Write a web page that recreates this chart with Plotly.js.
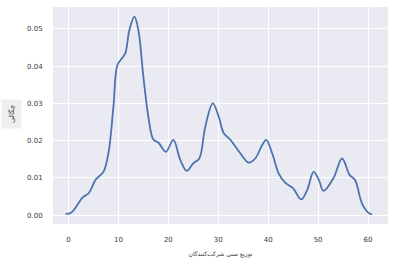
<!DOCTYPE html>
<html><head><meta charset="utf-8">
<script src="https://cdn.plot.ly/plotly-3.0.1.min.js"></script>
<style>html,body{margin:0;padding:0;background:#fff;}#chart{width:394px;height:265px;}</style>
</head><body><div id="chart"></div>
<script>
const xValues = [-0.6,0.6,2.9,4.0,5.5,7.0,8.0,9.0,9.8,10.7,11.4,12.2,13.2,14.0,15.0,16.0,17.0,18.0,19.5,21.0,22.4,23.7,25.0,26.2,27.4,28.9,30.1,31.1,32.4,34.4,36.1,37.4,38.8,39.6,40.8,42.1,43.4,45.0,46.6,47.8,49.1,50.1,51.1,53.1,54.8,56.3,57.4,58.8,60.1,60.8];
const densityValues = [0.0003,0.0007,0.0048,0.0058,0.0096,0.0116,0.0166,0.0291,0.0403,0.0421,0.0435,0.0497,0.0533,0.0497,0.0372,0.0264,0.0203,0.0195,0.0170,0.0202,0.0148,0.0119,0.0139,0.0152,0.0237,0.0300,0.0264,0.0220,0.0203,0.0166,0.0141,0.0152,0.0188,0.0202,0.0166,0.0112,0.0087,0.0072,0.0042,0.0067,0.0116,0.0096,0.0065,0.0100,0.0152,0.0108,0.0094,0.0031,0.0006,0.0002];
const xTicks = [0,10,20,30,40,50,60];
const yTicks = [0,0.01,0.02,0.03,0.04,0.05];
const xTitle = 'توزیع سنی شرکت‌کنندگان';
const yTitle = 'چگالی';

const font = {family:'DejaVu Sans, sans-serif', size:7, color:'#3a3a3a'};
Plotly.newPlot('chart', [{
  x: xValues, y: densityValues, type:'scatter', mode:'lines',
  line:{color:'#4c72b0', width:1.8, shape:'spline', smoothing:1}
}], {
  width:394, height:265,
  margin:{l:53, r:6, t:7, b:41},
  paper_bgcolor:'#ffffff', plot_bgcolor:'#eaeaf2',
  showlegend:false, font:font,
  xaxis:{range:[-3.1,64.0], tickvals:xTicks, ticktext:xTicks.map(String),
    gridcolor:'#ffffff', gridwidth:1, zeroline:false, showline:false,
    ticks:'outside', ticklen:9, tickcolor:'rgba(0,0,0,0)', tickfont:font,
    title:{text:xTitle, font:{family:'DejaVu Sans, sans-serif', size:6, color:'#3a3a3a'}, standoff:8}},
  yaxis:{range:[-0.0024,0.0559], tickvals:yTicks, tickformat:'.2f',
    gridcolor:'#ffffff', gridwidth:1, zeroline:false, showline:false,
    ticks:'outside', ticklen:8, tickcolor:'rgba(0,0,0,0)', tickfont:font},
  annotations:[{
    text:yTitle, textangle:-90, xref:'paper', yref:'paper',
    x:(11-53)/335, y:(224-114)/217, xanchor:'center', yanchor:'middle',
    showarrow:false, bgcolor:'#efeff1', borderpad:5,
    font:{family:'DejaVu Sans, sans-serif', size:7, color:'#3a3a3a'}
  }]
}, {displayModeBar:false, staticPlot:true});
</script></body></html>
